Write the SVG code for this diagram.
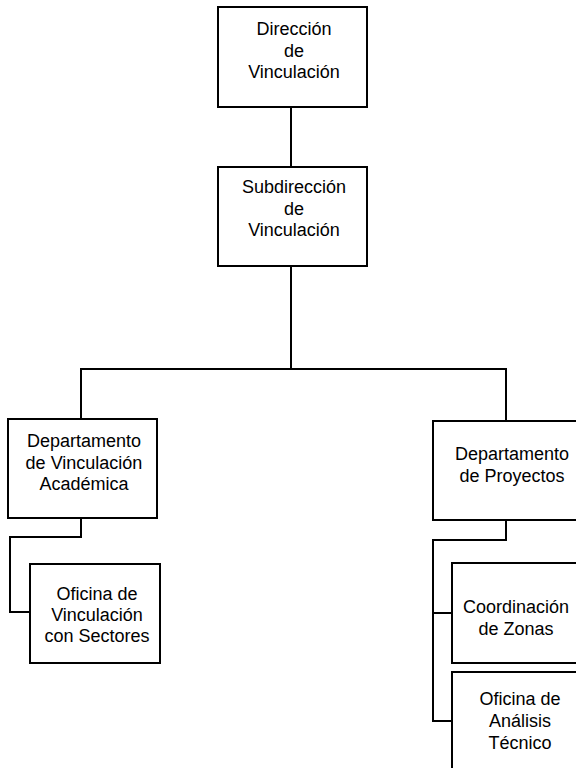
<svg xmlns="http://www.w3.org/2000/svg" width="576" height="768" viewBox="0 0 576 768">
  <style>
    .box { fill: #ffffff; stroke: #000000; stroke-width: 2; }
    .link { fill: none; stroke: #000000; stroke-width: 2; }
    .label { font-family: "Liberation Sans", Arial, sans-serif; font-size: 18px; fill: #000000; text-anchor: middle; }
  </style>
  <rect width="576" height="768" fill="#ffffff"/>

  <!-- connectors -->
  <g id="connectors">
    <path class="link" d="M291,107 V167"/>
    <path class="link" d="M291,266 V369"/>
    <path class="link" d="M81,419 V369 H506 V421"/>
    <path class="link" d="M81,518 V537 H10 V612 H30"/>
    <path class="link" d="M506,520 V540 H433 V721 H452"/>
    <path class="link" d="M433,613 H452"/>
  </g>

  <g id="direccion">
    <rect class="box" x="218" y="7" width="149" height="100"/>
    <text class="label" x="294" y="35">Dirección</text>
    <text class="label" x="294" y="56.5">de</text>
    <text class="label" x="294" y="78">Vinculación</text>
  </g>

  <g id="subdireccion">
    <rect class="box" x="218" y="167" width="149" height="99"/>
    <text class="label" x="294" y="193">Subdirección</text>
    <text class="label" x="294" y="214.5">de</text>
    <text class="label" x="294" y="236">Vinculación</text>
  </g>

  <g id="depto-vinculacion">
    <rect class="box" x="8" y="419" width="149" height="99"/>
    <text class="label" x="84" y="447">Departamento</text>
    <text class="label" x="84" y="468.5">de Vinculación</text>
    <text class="label" x="84" y="490">Académica</text>
  </g>

  <g id="oficina-sectores">
    <rect class="box" x="30" y="564" width="130" height="99"/>
    <text class="label" x="97" y="600">Oficina de</text>
    <text class="label" x="97" y="621">Vinculación</text>
    <text class="label" x="97" y="642">con Sectores</text>
  </g>

  <g id="depto-proyectos">
    <rect class="box" x="433" y="421" width="149" height="99"/>
    <text class="label" x="512" y="460">Departamento</text>
    <text class="label" x="512" y="482">de Proyectos</text>
  </g>

  <g id="coordinacion-zonas">
    <rect class="box" x="452" y="563" width="149" height="100"/>
    <text class="label" x="516" y="613">Coordinación</text>
    <text class="label" x="516" y="635">de Zonas</text>
  </g>

  <g id="oficina-analisis">
    <rect class="box" x="452" y="672" width="149" height="100"/>
    <text class="label" x="520" y="705">Oficina de</text>
    <text class="label" x="520" y="727">Análisis</text>
    <text class="label" x="520" y="749">Técnico</text>
  </g>
</svg>
